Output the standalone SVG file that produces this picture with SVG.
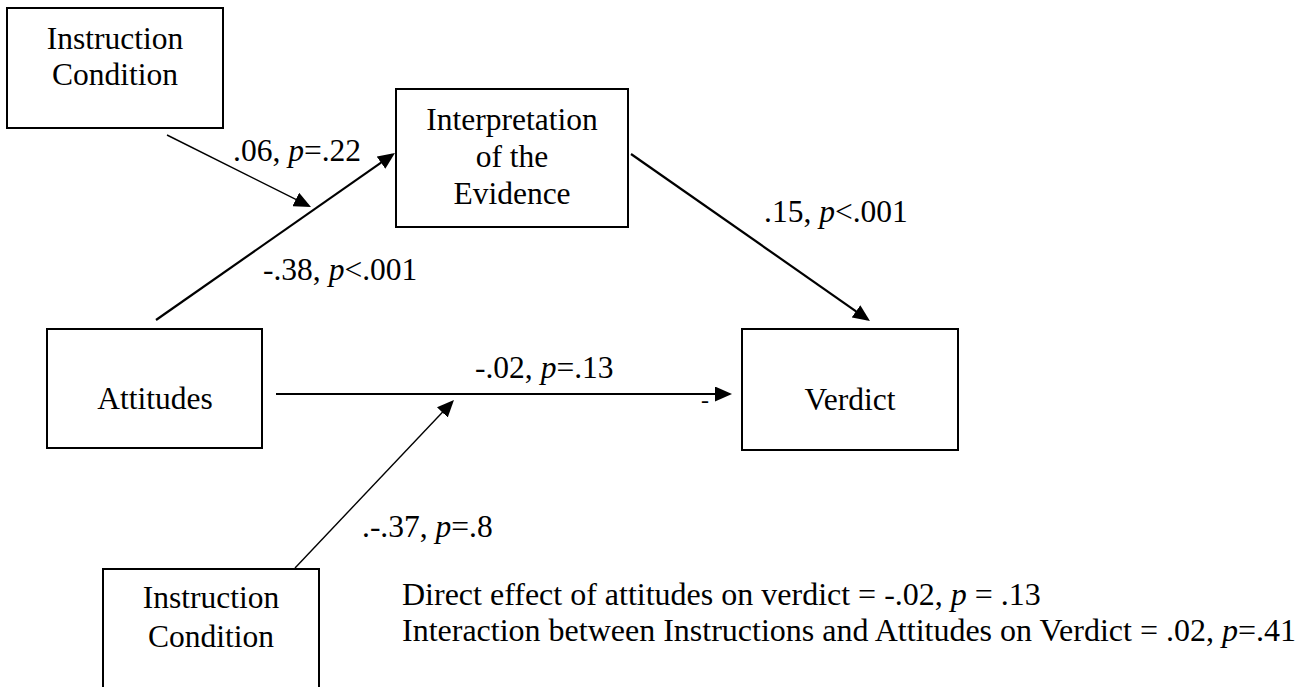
<svg xmlns="http://www.w3.org/2000/svg" width="1314" height="687" viewBox="0 0 1314 687">
<style>
text{font-family:"Liberation Serif","Times New Roman",serif;font-size:31.5px;fill:#000}
.c{text-anchor:middle}
.box{fill:#fff;stroke:#000;stroke-width:2}
.thick{stroke:#000;stroke-width:2.2;fill:none}
.thin{stroke:#000;stroke-width:1.4;fill:none}
.i{font-style:italic}
.note{font-size:32px}
</style>
<defs>
<marker id="ah" viewBox="0 0 17 15" refX="14" refY="7.5" markerWidth="17" markerHeight="15" markerUnits="userSpaceOnUse" orient="auto">
<path d="M0,0 L17,7.5 L0,15 z" fill="#000"/>
</marker>
</defs>
<rect width="1314" height="687" fill="#fff"/>
<g id="connectors">
<line class="thin" x1="167" y1="135" x2="308.3" y2="205.7" marker-end="url(#ah)"/>
<line class="thick" x1="156" y1="320" x2="392.5" y2="154.7" marker-end="url(#ah)"/>
<line class="thick" x1="631" y1="154" x2="867.5" y2="319.3" marker-end="url(#ah)"/>
<line class="thick" x1="276" y1="394" x2="729" y2="394" marker-end="url(#ah)"/>
<line class="thin" x1="295" y1="568" x2="451.9" y2="402.2" marker-end="url(#ah)"/>
<text x="233" y="161">.06, <tspan class="i">p</tspan>=.22</text>
<text x="263" y="280">-.38, <tspan class="i">p</tspan>&lt;.001</text>
<text x="764" y="222">.15, <tspan class="i">p</tspan>&lt;.001</text>
<text x="475" y="378">-.02, <tspan class="i">p</tspan>=.13</text>
<text x="705" y="408" class="c" style="font-size:24px">-</text>
<text x="362" y="537">.-.37, <tspan class="i">p</tspan>=.8</text>
</g>
<g id="instruction-top">
<rect class="box" x="7" y="8" width="216" height="120"/>
<text class="c" x="115" y="49">Instruction</text>
<text class="c" x="115" y="85">Condition</text>
</g>
<g id="interpretation">
<rect class="box" x="396" y="89" width="232" height="138"/>
<text class="c" x="512" y="130">Interpretation</text>
<text class="c" x="512" y="167">of the</text>
<text class="c" x="512" y="204">Evidence</text>
</g>
<g id="attitudes">
<rect class="box" x="47" y="329" width="215" height="119"/>
<text class="c" x="155" y="409">Attitudes</text>
</g>
<g id="verdict">
<rect class="box" x="742" y="329" width="216" height="121"/>
<text class="c" x="850" y="410">Verdict</text>
</g>
<g id="instruction-bottom">
<rect class="box" x="103" y="569" width="216" height="140"/>
<text class="c" x="211" y="608">Instruction</text>
<text class="c" x="211" y="647">Condition</text>
</g>
<g id="notes">
<text class="note" x="402" y="605">Direct effect of attitudes on verdict = -.02, <tspan class="i">p</tspan> = .13</text>
<text class="note" x="402" y="641">Interaction between Instructions and Attitudes on Verdict = .02, <tspan class="i">p</tspan>=.41</text>
</g>
</svg>
